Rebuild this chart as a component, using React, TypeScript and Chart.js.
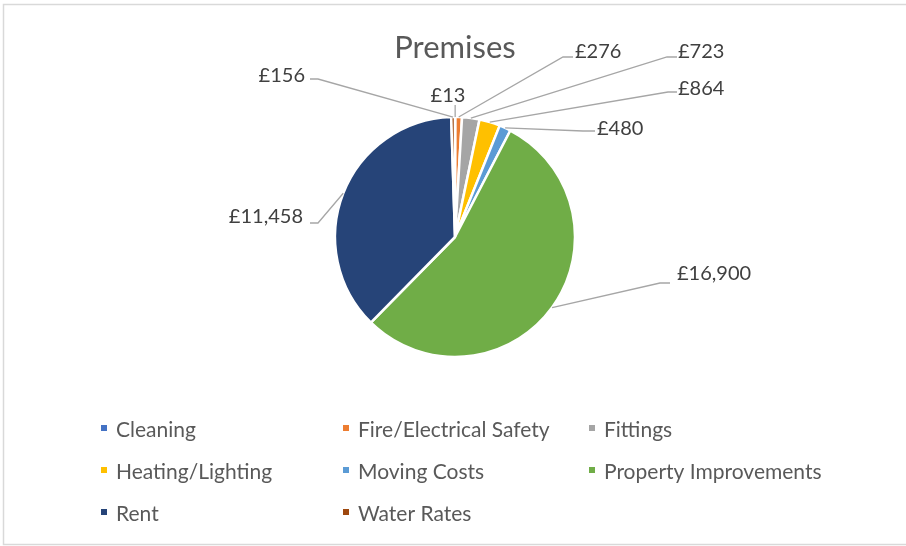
import React, { useEffect, useRef } from "react";
import { Chart, registerables } from "chart.js";

Chart.register(...registerables);

const TITLE = "Premises";
const CATEGORIES = [
  "Cleaning",
  "Fire/Electrical Safety",
  "Fittings",
  "Heating/Lighting",
  "Moving Costs",
  "Property Improvements",
  "Rent",
  "Water Rates",
];
const VALUES = [13, 276, 723, 864, 480, 16900, 11458, 156];
const VALUE_LABELS = ["£13", "£276", "£723", "£864", "£480", "£16,900", "£11,458", "£156"];
const COLORS = ["#4472C4", "#ED7D31", "#A5A5A5", "#FFC000", "#5B9BD5", "#70AD47", "#264478", "#9E480E"];

// Data-label placement relative to the pie centre (text anchor + leader elbow/stub)
type LabelPos = { tx: number; ty: number; align: CanvasTextAlign; ex: number | null; ey: number; sx: number | null };
const LABEL_LAYOUT: LabelPos[] = [
  { tx: -7, ty: -135, align: "center", ex: null, ey: -132, sx: null },
  { tx: 120, ty: -179, align: "left", ex: 108, ey: -180, sx: 118 },
  { tx: 223, ty: -179, align: "left", ex: 212, ey: -180, sx: 222 },
  { tx: 223, ty: -142, align: "left", ex: 213, ey: -145, sx: 222 },
  { tx: 142, ty: -102, align: "left", ex: 128, ey: -106, sx: 140 },
  { tx: 222, ty: 43, align: "left", ex: 205, ey: 46, sx: 215 },
  { tx: -152, ty: -14, align: "right", ex: -137, ey: -14, sx: -145 },
  { tx: -150, ty: -155, align: "right", ex: -137, ey: -158, sx: -145 },
];

const LEGEND_COLS = [101, 343, 589];
const LEGEND_ROWS = [437, 479, 521];
const FONT = "Lato, 'Open Sans', sans-serif";

const decorPlugin = {
  id: "decor",
  beforeDraw(chart: any) {
    const ctx = chart.ctx as CanvasRenderingContext2D;
    ctx.save();
    ctx.fillStyle = "#ffffff";
    ctx.fillRect(0, 0, chart.width, chart.height);
    ctx.strokeStyle = "#D9D9D9";
    ctx.lineWidth = 1.5;
    ctx.strokeRect(3.5, 4.5, chart.width + 10, 540);
    ctx.restore();
  },
  afterDraw(chart: any) {
    const ctx = chart.ctx as CanvasRenderingContext2D;
    const meta = chart.getDatasetMeta(0);
    ctx.save();
    // title
    ctx.fillStyle = "#595959";
    ctx.font = `31px ${FONT}`;
    ctx.textAlign = "center";
    ctx.textBaseline = "alphabetic";
    const c0 = meta.data[0].getProps(["x", "y"], true);
    ctx.fillText(TITLE, c0.x, 58);

    // data labels with leader lines
    ctx.font = `20px ${FONT}`;
    meta.data.forEach((arc: any, i: number) => {
      const p = arc.getProps(["x", "y", "startAngle", "endAngle", "outerRadius"], true);
      const mid = (p.startAngle + p.endAngle) / 2;
      const ax = p.x + Math.cos(mid) * p.outerRadius;
      const ay = p.y + Math.sin(mid) * p.outerRadius;
      const L = LABEL_LAYOUT[i];
      ctx.strokeStyle = "#A6A6A6";
      ctx.lineWidth = 1.3;
      ctx.beginPath();
      if (L.ex === null) {
        ctx.moveTo(ax, p.y + L.ey);
        ctx.lineTo(ax, ay);
      } else {
        ctx.moveTo(p.x + (L.sx as number), p.y + L.ey);
        ctx.lineTo(p.x + L.ex, p.y + L.ey);
        ctx.lineTo(ax, ay);
      }
      ctx.stroke();
      ctx.fillStyle = "#404040";
      ctx.textAlign = L.align;
      ctx.fillText(VALUE_LABELS[i], p.x + L.tx, p.y + L.ty);
    });

    // legend
    ctx.font = `21px ${FONT}`;
    ctx.textAlign = "left";
    CATEGORIES.forEach((name, i) => {
      const col = i % 3;
      const row = Math.floor(i / 3);
      const x = LEGEND_COLS[col];
      const y = LEGEND_ROWS[row];
      ctx.fillStyle = COLORS[i];
      ctx.fillRect(x, y - 12, 6, 6);
      ctx.fillStyle = "#595959";
      ctx.fillText(name, x + 15, y);
    });
    ctx.restore();
  },
};

export default function App() {
  const ref = useRef<HTMLCanvasElement>(null);
  useEffect(() => {
    if (!ref.current) return;
    const chart = new Chart(ref.current, {
      type: "pie",
      data: {
        labels: CATEGORIES,
        datasets: [
          {
            data: VALUES,
            backgroundColor: COLORS,
            borderColor: "#ffffff",
            borderWidth: 2.5,
          },
        ],
      },
      options: {
        animation: false,
        responsive: false,
        radius: 120,
        layout: { padding: { left: 4, right: 0, top: 40, bottom: 112 } },
        plugins: {
          legend: { display: false },
          title: { display: false },
          tooltip: { enabled: false },
        },
      } as any,
      plugins: [decorPlugin],
    });
    return () => chart.destroy();
  }, []);
  return (
    <div style={{ position: "fixed", left: 0, top: 0, width: 906, height: 546, background: "#fff" }}>
      <canvas ref={ref} width={906} height={546} style={{ width: 906, height: 546, display: "block" }} />
    </div>
  );
}
